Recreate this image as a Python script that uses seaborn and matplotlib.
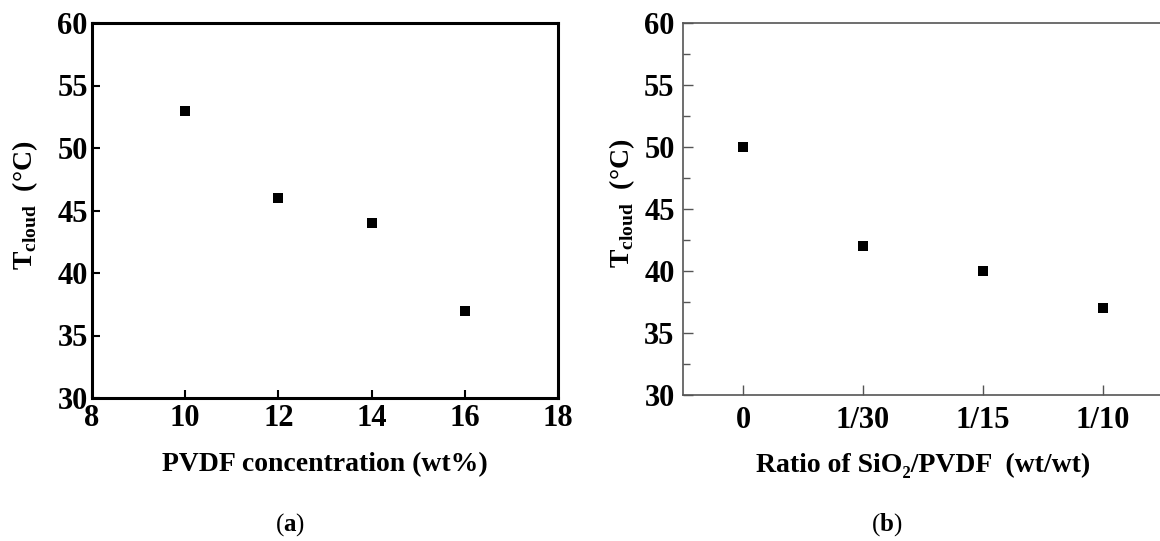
import matplotlib
matplotlib.use("Agg")
import matplotlib.pyplot as plt
import seaborn as sns
from matplotlib.ticker import MultipleLocator

# panel (a): cloud point vs PVDF concentration
pvdf_conc = [10, 12, 14, 16]
t_cloud_a = [53, 46, 44, 37]

# panel (b): cloud point vs SiO2/PVDF ratio
ratio_labels = ["0", "1/30", "1/15", "1/10"]
t_cloud_b = [50, 42, 40, 37]

sns.set_theme(style="white")
plt.rcParams['font.family'] = ['Liberation Serif', 'DejaVu Serif']
plt.rcParams['mathtext.fontset'] = 'custom'
plt.rcParams['mathtext.rm'] = 'Liberation Serif'
plt.rcParams['mathtext.bf'] = 'Liberation Serif:bold'
for key in ['text.color', 'axes.labelcolor', 'xtick.labelcolor', 'ytick.labelcolor']:
    plt.rcParams[key] = 'black'

fig = plt.figure(figsize=(11.6, 5.41), dpi=100)
W, H = 1160, 541

def px_axes(left, top, right, bottom):
    return fig.add_axes([left / W, 1 - bottom / H, (right - left) / W, (bottom - top) / H])

ylab = r"T$_{\mathregular{cloud}}$  (°C)"

# ---- (a)
ax1 = px_axes(92, 23, 558, 398)
sns.scatterplot(x=pvdf_conc, y=t_cloud_a, marker='s', s=42, color='black',
                edgecolor='black', linewidth=0, ax=ax1)
ax1.set_xlim(8, 18)
ax1.set_ylim(30, 60)
ax1.xaxis.set_major_locator(MultipleLocator(2))
ax1.yaxis.set_major_locator(MultipleLocator(5))
for sp in ax1.spines.values():
    sp.set_visible(True)
    sp.set_color('black')
    sp.set_linewidth(2.2)
ax1.tick_params(direction='in', length=6, width=1.5, color='black', pad=4,
                labelsize=22, bottom=True, left=True)
ax1.tick_params(axis='y', pad=3)
for lab in ax1.get_xticklabels() + ax1.get_yticklabels():
    lab.set_fontweight('bold')
ax1.set_xlabel("PVDF concentration (wt%)", fontsize=20, fontweight='bold')
ax1.xaxis.set_label_coords(0.5, (398 - 465) / 375)
ax1.xaxis.label.set_va('center')
ax1.set_ylabel(ylab, fontsize=20, fontweight='bold')
ax1.yaxis.set_label_coords((25 - 92) / 466, (398 - 205) / 375)
ax1.yaxis.label.set_va('center')

# ---- (b)
ax2 = px_axes(683, 23, 1163, 395)
sns.scatterplot(x=ratio_labels, y=t_cloud_b, marker='s', s=42, color='black',
                edgecolor='black', linewidth=0, ax=ax2)
ax2.set_xlim(-0.5, 3.5)
ax2.set_ylim(30, 60)
ax2.yaxis.set_major_locator(MultipleLocator(5))
ax2.yaxis.set_minor_locator(MultipleLocator(2.5))
for sp in ax2.spines.values():
    sp.set_visible(True)
    sp.set_color('#555555')
    sp.set_linewidth(1.2)
ax2.tick_params(which='major', direction='in', length=7, width=1, color='#555555',
                pad=6, labelsize=22, bottom=True, left=True)
ax2.tick_params(axis='x', pad=8)
ax2.tick_params(axis='y', which='minor', direction='in', length=5, width=1,
                color='#555555', left=True)
for lab in ax2.get_xticklabels() + ax2.get_yticklabels():
    lab.set_fontweight('bold')
ax2.set_xlabel("Ratio of SiO₂/PVDF  (wt/wt)", fontsize=20, fontweight='bold')
ax2.xaxis.set_label_coords(0.5, (395 - 465) / 372)
ax2.xaxis.label.set_va('center')
ax2.set_ylabel(ylab, fontsize=20, fontweight='bold')
ax2.yaxis.set_label_coords((622 - 683) / 480, (395 - 203) / 372)
ax2.yaxis.label.set_va('center')

# panel captions
fig.text(290 / W, 1 - 525 / H, r"($\mathbf{a}$)", fontsize=18, ha='center', va='center')
fig.text(887 / W, 1 - 525 / H, r"($\mathbf{b}$)", fontsize=18, ha='center', va='center')

fig.savefig("out.png", dpi=100)
